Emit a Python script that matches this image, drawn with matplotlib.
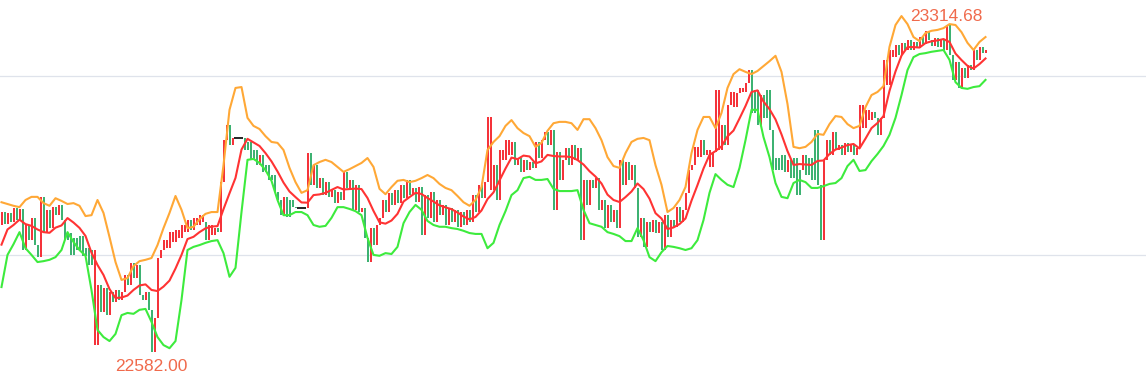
import numpy as np
import matplotlib
matplotlib.use("Agg")
import matplotlib.pyplot as plt

# candles: open / close, one pair per bar
opens = [
    22867, 22896, 22869, 22894, 22874, 22905, 22878, 22903, 22811, 22867,
    22833, 22883, 22822, 22795, 22930, 22851, 22901, 22860, 22907, 22889,
    22912, 22878, 22848, 22848, 22838, 22838, 22842, 22842, 22815, 22815,
    22811, 22598, 22598, 22733, 22672, 22726, 22665, 22717, 22695, 22721,
    22699, 22717, 22755, 22733, 22782, 22748, 22777, 22710, 22699, 22717,
    22677, 22582.00, 22659, 22793, 22811, 22815, 22815, 22829, 22829, 22838,
    22838, 22851, 22851, 22878, 22856, 22867, 22867, 22874, 22874, 22833,
    22845, 22845, 22860, 22851, 22963, 23057, 23091, 23046, 23062, 23062,
    23062, 23062, 23053, 23053, 23035, 23035, 23001, 23024, 23001, 23001,
    22979, 22979, 22941, 22923, 22889, 22930, 22923, 22923, 22907, 22905,
    22905, 22905, 22905, 23028, 22957, 23001, 22950, 22972, 22934, 22963,
    22930, 22945, 22916, 22941, 22923, 22986, 22950, 22968, 22901, 22957,
    22896, 22905, 22838, 22784, 22860, 22822, 22867, 22883, 22923, 22896,
    22939, 22912, 22945, 22916, 22957, 22927, 22968, 22934, 22950, 22919,
    22952, 22845, 22934, 22883, 22941, 22874, 22923, 22889, 22912, 22867,
    22905, 22874, 22901, 22863, 22896, 22867, 22901, 22874, 22934, 22896,
    22957, 22927, 22963, 22945, 22945, 23001, 22923, 23013, 23013, 23024,
    23024, 23053, 23001, 23017, 22986, 23013, 22990, 23008, 22995, 23053,
    23017, 23057, 23075, 23046, 23080, 22901, 23031, 22968, 23013, 23039,
    23001, 23046, 23013, 23039, 22833, 22968, 22912, 22968, 22950, 22972,
    22901, 22923, 22860, 22912, 22874, 22901, 22860, 23013, 22957, 23008,
    22968, 23001, 22950, 22840, 22883, 22818, 22874, 22851, 22878, 22848,
    22874, 22811, 22889, 22840, 22878, 22863, 22907, 22874, 22901, 22939,
    22990, 23001, 23019, 23019, 23057, 23024, 22997, 22997, 23031, 23035,
    23035, 23091, 23046, 23136, 23131, 23131, 23163, 23165, 23165, 23185,
    23214, 23169, 23169, 23091, 23158, 23169, 23169, 23080, 23017, 23017,
    23024, 23024, 22986, 23013, 23017, 23017, 22990, 22990, 23024, 23017,
    23017, 23080, 23080, 22957, 22833, 23013, 23057, 23024, 23075, 23035,
    23046, 23024, 23050, 23031, 23046, 23024, 23039, 23084, 23084, 23102,
    23102, 23120, 23107, 23069, 23107, 23181, 23181, 23243, 23243, 23270,
    23248, 23275, 23259, 23281, 23259, 23277, 23263, 23288, 23272, 23302,
    23281, 23268, 23286, 23266, 23281, 23259, 23314.68, 23248, 23192, 23232,
    23174, 23219, 23196, 23225, 23214, 23259, 23237, 23266, 23252,
]
closes = [
    22896, 22869, 22894, 22874, 22905, 22878, 22903, 22811, 22867, 22833,
    22883, 22822, 22795, 22930, 22851, 22901, 22860, 22907, 22889, 22912,
    22878, 22833, 22833, 22800, 22800, 22811, 22811, 22798, 22798, 22777,
    22777, 22811, 22733, 22672, 22726, 22665, 22717, 22695, 22721, 22699,
    22717, 22755, 22733, 22782, 22748, 22777, 22710, 22699, 22717, 22677,
    22582.00, 22659, 22793, 22811, 22833, 22833, 22851, 22851, 22856, 22856,
    22867, 22867, 22878, 22856, 22883, 22883, 22889, 22889, 22833, 22867,
    22867, 22860, 22851, 22963, 23057, 23091, 23046, 23062, 23062, 23062,
    23062, 23035, 23035, 23013, 23013, 23001, 23024, 22986, 22986, 22968,
    22968, 22941, 22923, 22889, 22930, 22885, 22885, 22907, 22905, 22905,
    22905, 22905, 23028, 22957, 23001, 22950, 22972, 22934, 22963, 22930,
    22945, 22916, 22941, 22923, 22986, 22950, 22968, 22901, 22957, 22896,
    22905, 22838, 22784, 22860, 22822, 22867, 22883, 22923, 22896, 22939,
    22912, 22945, 22916, 22957, 22927, 22968, 22934, 22950, 22919, 22952,
    22845, 22934, 22883, 22941, 22874, 22923, 22889, 22912, 22867, 22905,
    22874, 22901, 22863, 22896, 22867, 22901, 22874, 22934, 22896, 22957,
    22927, 22963, 23109, 23109, 23001, 22923, 23035, 23035, 23057, 23057,
    23053, 23001, 23017, 22986, 23013, 22990, 23008, 22995, 23053, 23017,
    23057, 23075, 23046, 23080, 22901, 23031, 22968, 23013, 23039, 23001,
    23046, 23013, 23039, 22833, 22968, 22912, 22968, 22950, 22972, 22901,
    22923, 22860, 22912, 22874, 22901, 22860, 23013, 22957, 23008, 22968,
    23001, 22950, 22840, 22883, 22818, 22874, 22851, 22878, 22848, 22874,
    22811, 22889, 22840, 22878, 22863, 22907, 22874, 22901, 22939, 22990,
    23001, 23042, 23042, 23057, 23024, 23035, 23035, 23031, 23169, 23169,
    23091, 23046, 23136, 23165, 23165, 23163, 23174, 23174, 23185, 23214,
    23118, 23118, 23091, 23158, 23107, 23107, 23080, 22990, 22990, 22990,
    22990, 22986, 23013, 22972, 22972, 22934, 22934, 23024, 22979, 22979,
    22968, 22968, 22957, 22833, 23013, 23057, 23024, 23075, 23035, 23046,
    23024, 23050, 23031, 23046, 23024, 23039, 23136, 23136, 23125, 23125,
    23120, 23107, 23069, 23107, 23237, 23237, 23259, 23259, 23270, 23248,
    23275, 23259, 23281, 23259, 23277, 23263, 23288, 23272, 23302, 23281,
    23268, 23286, 23266, 23281, 23259, 23314.68, 23248, 23192, 23232, 23174,
    23219, 23196, 23225, 23214, 23259, 23237, 23266, 23252, 23259,
]

# Bollinger upper / lower, one value every 2 candles
upper = [
    22918, 22914, 22910, 22907, 22923, 22930, 22930, 22916, 22910, 22927,
    22921, 22914, 22916, 22910, 22887, 22889, 22923, 22894, 22840, 22784,
    22744, 22748, 22775, 22786, 22789, 22793, 22822, 22860, 22894, 22932,
    22901, 22860, 22863, 22880, 22892, 22896, 22896, 23001, 23125, 23174,
    23176, 23107, 23089, 23082, 23066, 23053, 23051, 23035, 22995, 22963,
    22939, 22945, 23001, 23008, 23013, 23008, 22997, 22986, 22992, 22999,
    23006, 23017, 22997, 22948, 22936, 22952, 22966, 22968, 22963, 22966,
    22972, 22979, 22972, 22959, 22950, 22945, 22932, 22918, 22910, 22923,
    22952, 23035, 23053, 23066, 23089, 23102, 23084, 23073, 23066, 23042,
    23051, 23078, 23095, 23098, 23098, 23095, 23080, 23104, 23104, 23084,
    23057, 23019, 22999, 22995, 23028, 23053, 23060, 23062, 23057, 23001,
    22957, 22896, 22905, 22923, 22952, 23028, 23080, 23109, 23109, 23084,
    23118, 23174, 23205, 23216, 23210, 23205, 23212, 23223, 23234, 23246,
    23210, 23138, 23042, 23039, 23042, 23053, 23071, 23069, 23093, 23111,
    23109, 23093, 23084, 23089, 23131, 23158, 23165, 23178, 23266, 23315,
    23335, 23317, 23288, 23279, 23297, 23302, 23304, 23308, 23317, 23315,
    23299, 23275, 23259, 23277, 23288,
]
lower = [
    22728, 22800, 22824, 22851, 22815, 22800, 22784, 22786, 22789, 22795,
    22811, 22851, 22829, 22811, 22798, 22721, 22632, 22616, 22607, 22623,
    22665, 22670, 22668, 22677, 22679, 22650, 22616, 22598, 22591, 22607,
    22699, 22811, 22818, 22822, 22827, 22831, 22833, 22804, 22751, 22771,
    22896, 23013, 23015, 23006, 22990, 22966, 22923, 22889, 22889, 22896,
    22896, 22889, 22867, 22863, 22865, 22883, 22907, 22907, 22903, 22898,
    22889, 22838, 22800, 22798, 22804, 22802, 22818, 22871, 22896, 22912,
    22901, 22876, 22867, 22863, 22863, 22860, 22858, 22854, 22849, 22847,
    22847, 22815, 22827, 22867, 22898, 22934, 22945, 22972, 22975, 22968,
    22968, 22970, 22948, 22943, 22943, 22943, 22945, 22901, 22871, 22867,
    22863, 22851, 22847, 22842, 22831, 22831, 22860, 22833, 22795, 22786,
    22806, 22820, 22818, 22815, 22811, 22815, 22833, 22878, 22939, 22981,
    22968, 22957, 22952, 22995, 23057, 23125, 23125, 23064, 23019, 22961,
    22930, 22927, 22961, 22968, 22963, 22950, 22950, 22954, 22959, 22961,
    22972, 22999, 23013, 22988, 22990, 23010, 23026, 23044, 23069, 23107,
    23158, 23214, 23243, 23250, 23252, 23255, 23257, 23259, 23237, 23187,
    23174, 23172, 23176, 23178, 23192,
]
gridlines = [22800, 23200]

UP, DOWN = "#f5333a", "#3db272"
LABEL = "#f06a4c"

opens = np.array(opens, dtype=float)
closes = np.array(closes, dtype=float)
idx = np.arange(len(closes))
upper = np.array(upper, dtype=float)
lower = np.array(lower, dtype=float)
mid = (upper + lower) / 2
bidx = np.arange(len(upper)) * 2

fig = plt.figure(figsize=(11.46, 3.72), dpi=100)
ax = fig.add_axes([0, 0, 1, 1])
ax.set_axis_off()

for g in gridlines:
    ax.axhline(g, color="#dfe3eb", lw=0.9, zorder=0)

# candles
rising = closes > opens
falling = closes < opens
flat = closes == opens
lo = np.minimum(opens, closes)
hi = np.maximum(opens, closes)
ax.vlines(idx[rising], lo[rising], hi[rising], color=UP, lw=1.2,
          antialiased=False, zorder=2)
ax.vlines(idx[falling], lo[falling], hi[falling], color=DOWN, lw=1.2,
          antialiased=False, zorder=2)
ax.hlines(closes[flat], idx[flat] - 0.5, idx[flat] + 0.5, color="black",
          lw=1.2, zorder=2)

# bands
ax.plot(bidx, upper, color="#ffa836", lw=1.5, zorder=3)
ax.plot(bidx, mid, color="#ff3333", lw=1.5, zorder=3)
ax.plot(bidx, lower, color="#3deb3d", lw=1.5, zorder=3)

# extreme labels
imax, imin = int(np.argmax(hi)), int(np.argmin(lo))
ax.annotate(f"{hi[imax]:.2f}", (imax, hi[imax]), xytext=(0, 1),
            textcoords="offset points", ha="center", va="bottom",
            color=LABEL, fontsize=12.5, family="Liberation Sans")
ax.annotate(f"{lo[imin]:.2f}", (imin, lo[imin]), xytext=(0, -5),
            textcoords="offset points", ha="center", va="top",
            color=LABEL, fontsize=12.5, family="Liberation Sans")

ax.set_xlim(-0.5, 381.5)
ax.set_ylim(22537.7, 23371)

fig.savefig("out.png", dpi=100)
